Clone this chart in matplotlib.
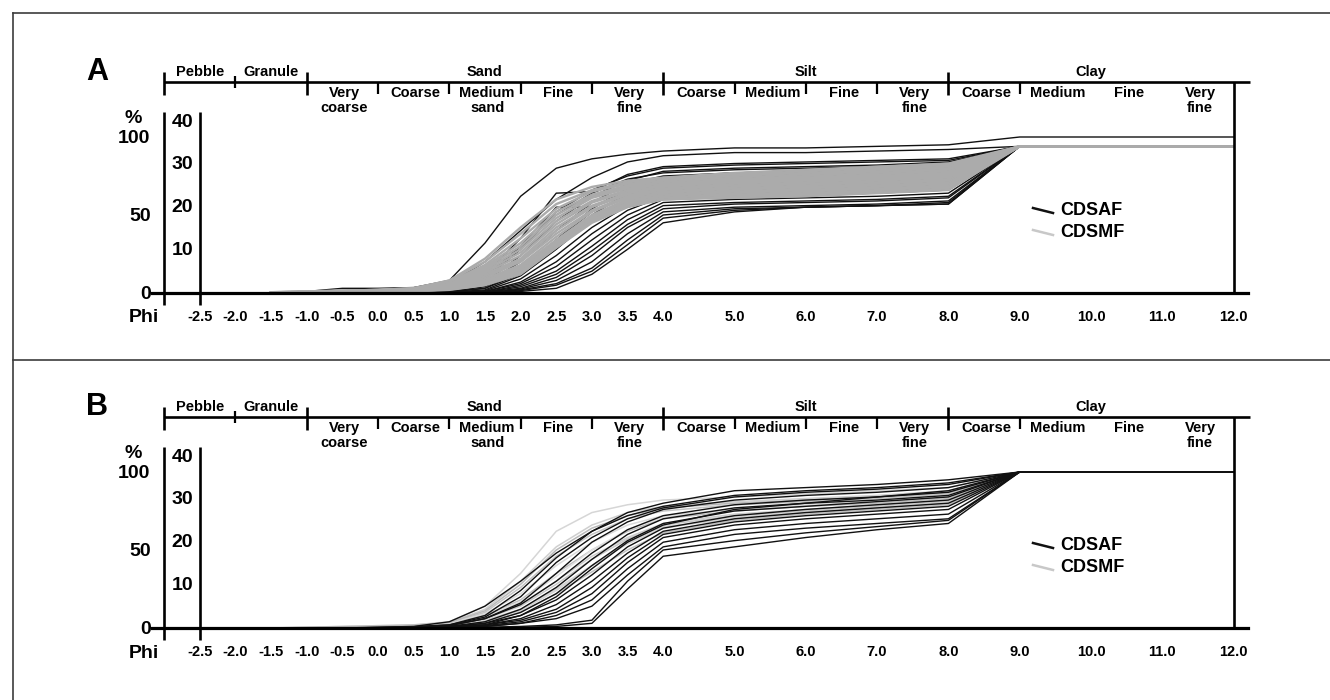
import matplotlib.pyplot as plt
from matplotlib.lines import Line2D

plt.rcParams["font.family"] = ["Liberation Sans", "DejaVu Sans"]
plt.rcParams["font.weight"] = "bold"

# phi values at which every cumulative curve was read (percent finer)
PHI = [-1.5, -1.0, -0.5, 0.0, 0.5, 1.0, 1.5, 2.0, 2.5, 3.0, 3.5, 4.0, 5.0, 6.0, 7.0, 8.0]
PHI_TAIL = [9.0, 12.0]

# each row: 16 values on PHI, then the level held from phi 9 to 12
A_CDSAF = [
    [0.5, 1, 3, 3, 3.5, 8, 32, 62, 80, 86, 89, 91, 93, 93, 94, 95, 100],
    [0, 0.5, 1, 1.5, 2, 6, 20, 40, 60, 74, 84, 88, 90, 90, 91, 92, 94],
    [0, 0, 0.5, 1, 1.5, 3, 12, 35, 64, 65, 76, 81, 83, 84, 85, 86, 94],
    [0, 0, 0, 0.5, 1, 2.5, 9, 28, 52, 66, 75, 80, 82, 83, 84, 85, 94],
    [0, 0, 0, 0, 0.5, 2, 7, 24, 46, 62, 72, 78, 80, 81, 82, 84, 94],
    [0, 0, 0, 0.5, 1, 2.5, 10, 30, 55, 55, 66, 74, 77, 78, 79, 81, 94],
    [0, 0, 0.5, 1, 1.5, 3, 10, 30, 50, 64, 73, 77, 79, 80, 81, 83, 94],
    [0, 0, 0, 0.5, 1, 2, 6, 20, 40, 58, 70, 75, 77, 78, 79, 81, 94],
    [0, 0, 0, 0, 0.5, 1, 4, 15, 34, 54, 67, 73, 75, 76, 77, 79, 94],
    [0, 0, 0, 0, 0, 1, 3, 12, 30, 50, 64, 71, 74, 75, 76, 78, 94],
    [0, 0, 0, 0, 0, 0.5, 3, 14, 34, 52, 63, 68, 70, 71, 72, 73, 94],
    [0, 0, 0, 0, 0, 0.5, 2, 11, 28, 47, 59, 66, 68, 69, 70, 71, 94],
    [0, 0, 0, 0, 0, 0, 1.5, 9, 24, 42, 56, 64, 66, 67, 68, 69, 94],
    [0, 0, 0, 0, 0, 0, 1, 7, 20, 38, 53, 62, 64, 65, 66, 67, 94],
    [0, 0, 0, 0, 0, 0, 1, 6, 17, 34, 50, 60, 62, 63, 64, 66, 94],
    [0, 0, 0, 0, 0, 0, 0.5, 5, 14, 30, 47, 58, 60, 61, 62, 64, 94],
    [0, 0, 0, 0, 0, 0, 0.5, 4, 12, 27, 44, 56, 58, 59, 60, 62, 94],
    [0, 0, 0, 0, 0, 0, 0.5, 3, 10, 24, 42, 54, 57, 58, 59, 61, 94],
    [0, 0, 0, 0, 0, 0, 0, 2.5, 8, 20, 38, 52, 55, 56, 57, 59, 94],
    [0, 0, 0, 0, 0, 0, 0, 2, 6, 16, 34, 50, 54, 55, 56, 58, 94],
    [0, 0, 0, 0, 0, 0, 0, 1, 3, 12, 28, 45, 52, 55, 56, 57, 94],
    [0, 0, 0, 0, 0, 0, 0, 1.5, 5, 14, 31, 48, 53, 55, 56, 57, 94],
]

A_CDSMF = [
    [0.5, 1, 1.5, 2, 3, 8, 22, 42, 60, 68, 72, 74, 77, 79, 81, 83, 94],
    [0.5, 1, 1.5, 2, 3, 8, 20, 38, 57, 66, 71, 73, 76, 78, 80, 82, 94],
    [0.4, 0.9, 1.4, 2, 3, 7, 18, 35, 54, 65, 70, 72, 75, 77, 79, 81, 94],
    [0.4, 0.8, 1.3, 1.8, 2.8, 7, 17, 32, 52, 63, 69, 71, 74, 76, 78, 80, 94],
    [0.3, 0.7, 1.2, 1.7, 2.6, 6, 16, 30, 50, 62, 68, 70, 73, 75, 77, 79, 94],
    [0.3, 0.7, 1.1, 1.6, 2.4, 6, 15, 28, 48, 61, 67, 69, 72, 74, 76, 78, 94],
    [0.3, 0.6, 1, 1.5, 2.2, 5.5, 14, 26, 46, 59, 66, 68, 71, 73, 75, 77, 94],
    [0.2, 0.6, 1, 1.4, 2, 5, 13, 24, 44, 58, 65, 67, 70, 72, 74, 76, 94],
    [0.2, 0.5, 0.9, 1.3, 2, 5, 12, 22, 42, 56, 64, 66, 69, 71, 73, 75, 94],
    [0.2, 0.5, 0.8, 1.2, 1.8, 4.5, 11, 21, 40, 55, 63, 65, 68, 70, 72, 74, 94],
    [0.2, 0.4, 0.8, 1.1, 1.7, 4, 10, 20, 38, 53, 62, 64, 67, 69, 71, 73, 94],
    [0.1, 0.4, 0.7, 1, 1.6, 4, 9, 18, 36, 52, 61, 63, 66, 68, 70, 72, 94],
    [0.1, 0.3, 0.6, 1, 1.5, 3.5, 8, 17, 34, 50, 60, 62, 65, 67, 69, 71, 94],
    [0.1, 0.3, 0.6, 0.9, 1.4, 3, 8, 16, 33, 49, 59, 61, 64, 66, 68, 70, 94],
    [0, 0.2, 0.5, 0.8, 1.3, 3, 7, 15, 32, 48, 58, 61, 63, 65, 67, 69, 94],
    [0, 0.2, 0.5, 0.8, 1.2, 2.5, 6, 14, 31, 47, 57, 60, 62, 64, 66, 68, 94],
    [0, 0.2, 0.4, 0.7, 1.1, 2.5, 6, 13, 30, 46, 56, 60, 62, 63, 65, 67, 94],
    [0, 0.1, 0.4, 0.6, 1, 2, 5, 12, 29, 45, 55, 60, 61, 62, 64, 66, 94],
]

B_CDSAF = [
    [0, 0, 0, 0.3, 0.8, 2, 8, 24, 45, 62, 74, 80, 88, 90, 92, 95, 100],
    [0, 0, 0, 0.3, 0.8, 2, 7, 20, 42, 58, 70, 77, 84, 87, 89, 92, 100],
    [0, 0, 0, 0, 0.5, 1.5, 6, 16, 35, 55, 68, 76, 82, 85, 87, 90, 100],
    [0, 0, 0, 0, 0.5, 1.5, 6, 15, 30, 48, 63, 72, 79, 82, 84, 87, 100],
    [0, 0, 0, 0, 0.3, 1, 4, 12, 26, 44, 60, 70, 77, 80, 82, 85, 100],
    [0, 0, 0, 0, 0.3, 1, 3, 10, 22, 40, 56, 67, 75, 78, 81, 84, 100],
    [0, 0, 0, 0, 0, 0.8, 3, 8, 18, 34, 52, 64, 72, 76, 79, 82, 100],
    [0, 0, 0, 0, 0, 0.5, 2, 6, 15, 30, 48, 62, 70, 74, 77, 80, 100],
    [0, 0, 0, 0, 0, 0.5, 2, 5, 12, 26, 45, 60, 68, 72, 75, 78, 100],
    [0, 0, 0, 0, 0, 0.3, 1.5, 4, 10, 22, 42, 58, 66, 70, 73, 76, 100],
    [0, 0, 0, 0, 0, 0.3, 1, 3, 8, 18, 38, 55, 63, 67, 70, 73, 100],
    [0, 0, 0, 0, 0, 0, 1, 3, 6, 14, 34, 52, 60, 64, 67, 70, 100],
    [0, 0, 0, 0, 0, 0, 0, 0.5, 1, 3, 25, 46, 52, 58, 63, 67, 100],
    [0, 0, 0, 0, 0, 0, 0.5, 1, 2, 5, 30, 50, 56, 61, 65, 69, 100],
    [0, 0, 0, 0, 0, 0.5, 2, 8, 20, 38, 55, 66, 76, 80, 84, 88, 100],
    [0, 0, 0, 0.5, 1, 4, 14, 30, 48, 62, 72, 78, 85, 88, 90, 93, 100],
]

B_CDSMF = [
    [0, 0.5, 1, 1.5, 2, 4, 14, 35, 62, 74, 79, 82, 84, 86, 88, 90, 100],
    [0, 0.5, 1, 1.5, 2, 3.5, 12, 30, 52, 66, 74, 78, 81, 83, 85, 88, 100],
    [0, 0, 0.5, 1, 1.5, 3, 10, 26, 46, 60, 70, 75, 79, 81, 83, 86, 100],
    [0, 0, 0.5, 1, 1.5, 3, 9, 22, 40, 55, 66, 72, 76, 79, 81, 84, 100],
    [0, 0, 0.5, 1, 1.2, 2.5, 8, 18, 35, 50, 62, 70, 75, 78, 80, 83, 100],
    [0, 0, 0.3, 0.8, 1, 2, 6, 15, 30, 46, 58, 67, 73, 76, 79, 82, 100],
    [0, 0, 0.3, 0.5, 1, 2, 5, 12, 25, 40, 54, 64, 71, 74, 77, 80, 100],
    [0, 0, 0, 0.5, 0.8, 1.5, 4, 10, 22, 36, 50, 61, 69, 73, 76, 79, 100],
    [0, 0, 0.3, 0.8, 1.2, 2.5, 7, 17, 33, 50, 63, 71, 76, 79, 81, 84, 100],
    [0, 0, 0, 0.5, 1, 2, 6, 14, 28, 44, 57, 66, 72, 75, 78, 81, 100],
    [0, 0, 0.2, 0.6, 1, 2, 5, 11, 24, 40, 55, 65, 70, 74, 77, 80, 100],
    [0, 0.3, 0.8, 1.2, 1.8, 3.5, 11, 28, 50, 64, 72, 77, 80, 82, 84, 87, 100],
]

PHI_TICKS = [-2.5, -2.0, -1.5, -1.0, -0.5, 0.0, 0.5, 1.0, 1.5, 2.0, 2.5, 3.0, 3.5,
             4.0, 5.0, 6.0, 7.0, 8.0, 9.0, 10.0, 11.0, 12.0]
PCT_TICKS = [0, 50, 100]
FREQ_TICKS = [10, 20, 30, 40]

CLASSES = ["Pebble", "Granule", "Sand", "Silt", "Clay"]
CLASS_EDGES = [-3, -2, -1, 4, 8, 12]
SUBCLASSES = ["Very\ncoarse", "Coarse", "Medium\nsand", "Fine", "Very\nfine",
              "Coarse", "Medium", "Fine", "Very\nfine",
              "Coarse", "Medium", "Fine", "Very\nfine"]
SUB_EDGES = [-1, 0, 1, 2, 3, 4, 5, 6, 7, 8, 9, 10, 11, 12]
SUB_TICKS = [0, 1, 2, 3, 5, 6, 7, 9]

# layout (pixels of the 1330x700 canvas, panel A coordinates)
W, H = 1330, 700
PANEL_H = 347
PANEL_TOPS = [13, 348]
ZERO_PX, PX_PER_PCT = 293, 1.56
X0_PX, PX_PER_PHI = 378, 71.3
AX_LEFT_PX, AX_RIGHT_PX = 152, 1248
FREQ_SCALE = 2.74  # percent units per frequency unit on the inner scale


def xp(px):
    return (px - X0_PX) / PX_PER_PHI


def yp(py):
    return (ZERO_PX - py) / PX_PER_PCT


def draw_panel(ax, letter, black_rows, grey_rows, grey_colors, grey_lw, grey_z):
    xs = PHI + PHI_TAIL
    for row, c in zip(grey_rows, grey_colors):
        ax.plot(xs, row[:16] + [row[16]] * 2, color=c, lw=grey_lw, zorder=grey_z)
    for row in black_rows:
        ax.plot(xs, row[:16] + [row[16]] * 2, color="#111111", lw=1.0, zorder=3)

    ax.set_xlim(xp(AX_LEFT_PX), xp(AX_RIGHT_PX))
    ax.set_ylim(yp(13 + PANEL_H), yp(13))
    for s in ["top", "left", "right"]:
        ax.spines[s].set_visible(False)
    ax.spines["bottom"].set_position(("data", 0))
    ax.spines["bottom"].set_linewidth(2.3)
    ax.spines["bottom"].set_zorder(5)
    ax.set_xticks(PHI_TICKS)
    ax.set_xticklabels([f"{t:.1f}" for t in PHI_TICKS])
    ax.tick_params(axis="x", length=0, pad=12, labelsize=10.5)
    ax.set_yticks(PCT_TICKS)
    ax.set_yticklabels([str(t) for t in PCT_TICKS])
    ax.tick_params(axis="y", length=0, pad=1, labelsize=14)
    ax.patch.set_alpha(0)

    k = dict(color="black", solid_capstyle="butt", clip_on=False, zorder=5)
    # grain-size scale bar
    ax.plot([CLASS_EDGES[0], xp(1250)], [yp(82), yp(82)], lw=1.9, **k)
    for e in [-3, -1, 4, 8]:
        ax.plot([e, e], [yp(72), yp(95)], lw=1.9, **k)
    ax.plot([-2, -2], [yp(76), yp(88)], lw=1.6, **k)
    for e in SUB_TICKS:
        ax.plot([e, e], [yp(82), yp(94)], lw=1.6, **k)
    ax.plot([12, 12], [yp(82), 0], lw=1.9, **k)
    for name, a, b in zip(CLASSES, CLASS_EDGES[:-1], CLASS_EDGES[1:]):
        ax.text((a + b) / 2, yp(72), name, ha="center", va="center", fontsize=10.5)
    for name, a, b in zip(SUBCLASSES, SUB_EDGES[:-1], SUB_EDGES[1:]):
        ax.text((a + b) / 2 + 0.03, yp(86), name, ha="center", va="top",
                fontsize=10.5, linespacing=1.05)

    # left scales
    for x in [-3, -2.5]:
        ax.plot([x, x], [yp(112), yp(305)], lw=1.9, **k)
    for f in FREQ_TICKS:
        ax.text(xp(193), f * FREQ_SCALE, str(f), ha="right", va="center", fontsize=14)
    ax.text(xp(133), yp(119), "%", ha="center", va="center", fontsize=14)
    ax.text(xp(144), yp(318), "Phi", ha="center", va="center", fontsize=14)
    ax.text(xp(97), yp(72), letter, ha="center", va="center", fontsize=22)

    # legend
    ax.plot([xp(1033), xp(1053)], [yp(208), yp(213)], color="#111111", lw=1.8, clip_on=False)
    ax.text(xp(1060), yp(211), "CDSAF", ha="left", va="center", fontsize=13)
    ax.plot([xp(1033), xp(1053)], [yp(230), yp(235)], color="#c8c8c8", lw=1.8, clip_on=False)
    ax.text(xp(1060), yp(233), "CDSMF", ha="left", va="center", fontsize=13)


fig = plt.figure(figsize=(W / 100, H / 100), dpi=100)

b_shades = ["#d6d6d6", "#cfcfcf", "#c4c4c4", "#dadada", "#bdbdbd", "#cccccc",
            "#d2d2d2", "#c0c0c0", "#e0e0e0", "#c8c8c8", "#d4d4d4", "#b8b8b8"]
# panel A: the grey band sits over the black curves; panel B: grey behind
panels = [
    ("A", A_CDSAF, A_CDSMF, ["#ababab"] * len(A_CDSMF), 1.7, 4),
    ("B", B_CDSAF, B_CDSMF, b_shades, 1.1, 2),
]
for top, (letter, black, grey, colors, glw, gz) in zip(PANEL_TOPS, panels):
    ax = fig.add_axes([AX_LEFT_PX / W, 1 - (top + PANEL_H) / H,
                       (AX_RIGHT_PX - AX_LEFT_PX) / W, PANEL_H / H])
    draw_panel(ax, letter, black, grey, colors, glw, gz)

# frame lines around and between the panels
fc = "#3c3c3c"
fig.add_artist(Line2D([13 / W, 1], [1 - 13 / H] * 2, transform=fig.transFigure, color=fc, lw=1.2))
fig.add_artist(Line2D([13 / W] * 2, [0, 1 - 13 / H], transform=fig.transFigure, color=fc, lw=1.2))
fig.add_artist(Line2D([13 / W, 1], [1 - 360 / H] * 2, transform=fig.transFigure, color=fc, lw=1.2))

fig.savefig("out.png", dpi=100, facecolor="white")
